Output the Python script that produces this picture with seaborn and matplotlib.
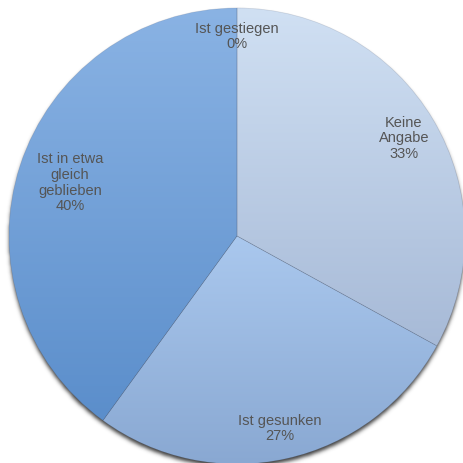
import numpy as np
import matplotlib
matplotlib.use("Agg")
import matplotlib.pyplot as plt
import seaborn as sns
from matplotlib.colors import to_rgb

# Survey answers, drawn clockwise from 12 o'clock
categories = ["Ist gestiegen", "Keine\nAngabe", "Ist gesunken", "Ist in etwa\ngleich\ngeblieben"]
shares = [0, 33, 27, 40]
pct_labels = ["0%", "33%", "27%", "40%"]

# Vertical gradient per slice (top colour, bottom colour)
top_colors = ["#9cc0ea", "#d0e0f3", "#aac8ee", "#8ab3e4"]
bottom_colors = ["#7fa6d6", "#a7bad7", "#89a8d2", "#5b8ecb"]
label_radius = [0.88, 0.85, 0.86, 0.77]

sns.set_style("white")
plt.rcParams["font.family"] = ["Liberation Sans", "DejaVu Sans"]

W = 464
R = 228.0
cx, cy = 237.0, 237.0

fig = plt.figure(figsize=(W / 100, W / 100), dpi=100)
ax = fig.add_axes([0, 0, 1, 1])

wedges, _ = ax.pie(
    shares, startangle=90, counterclock=False, radius=1,
    wedgeprops=dict(linewidth=0.5, edgecolor=(0.35, 0.4, 0.5, 0.22)),
)

# soft drop shadow under the pie
n = 500
xs = np.linspace(-1.15, 1.15, n)
X, Y = np.meshgrid(xs, xs)
disk = ((X) ** 2 + (Y + 3.5 / R) ** 2 <= 1.0).astype(float)
cell_px = (2.3 / n) * R
sigma = 2.0 / cell_px
k = np.arange(-int(4 * sigma) - 1, int(4 * sigma) + 2)
g = np.exp(-0.5 * (k / sigma) ** 2)
g /= g.sum()
blurred = np.apply_along_axis(lambda r: np.convolve(r, g, mode="same"), 1, disk)
blurred = np.apply_along_axis(lambda c: np.convolve(c, g, mode="same"), 0, blurred)
shadow = np.zeros((n, n, 4))
shadow[..., :3] = 0.15
shadow[..., 3] = blurred * 0.9
ax.imshow(shadow, extent=(-1.15, 1.15, -1.15, 1.15), origin="lower",
          zorder=0, interpolation="bilinear")

# gradient fills clipped to each wedge, spanning the wedge's own height
ramp = np.linspace(0, 1, 256)[:, None]
for w, c_top, c_bot in zip(wedges, top_colors, bottom_colors):
    ys = w.get_path().vertices[:, 1]
    y0, y1 = ys.min(), ys.max()
    if y1 - y0 < 1e-6:
        w.set_facecolor("none")
        continue
    t = np.array(to_rgb(c_top))
    b = np.array(to_rgb(c_bot))
    img = b[None, None, :] * (1 - ramp[..., None]) + t[None, None, :] * ramp[..., None]
    img = np.repeat(img, 2, axis=1)
    im = ax.imshow(img, extent=(-1, 1, y0, y1), origin="lower", zorder=1,
                   interpolation="bilinear", aspect="auto")
    im.set_clip_path(w)
    w.set_facecolor("none")
    w.set_zorder(2)

# slice labels
for w, cat, pct, r in zip(wedges, categories, pct_labels, label_radius):
    mid = np.deg2rad((w.theta1 + w.theta2) / 2)
    ax.text(r * np.cos(mid), r * np.sin(mid), f"{cat}\n{pct}",
            ha="center", va="center", fontsize=10.5, color="#555555",
            linespacing=1.15, zorder=3)

ax.set_xlim(-cx / R, (W - cx) / R)
ax.set_ylim(-(W - cy) / R, cy / R)
ax.set_aspect("equal")
ax.axis("off")

fig.savefig("out.png", dpi=100, facecolor="white")
